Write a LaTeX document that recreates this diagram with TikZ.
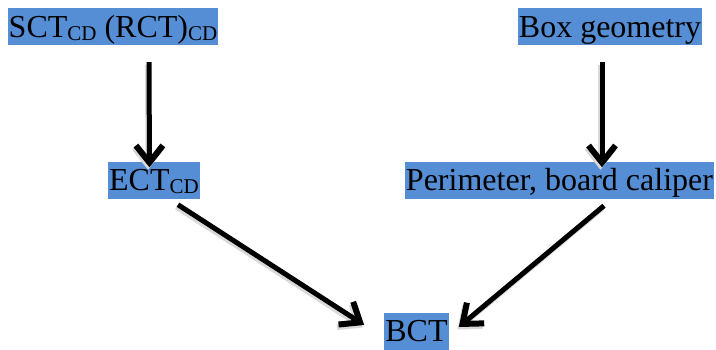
\documentclass[tikz,border=0pt]{standalone}
\usepackage{fontspec}
\setmainfont{Liberation Serif}
\usetikzlibrary{arrows.meta}
\definecolor{boxblue}{RGB}{85,142,213}
\newcommand{\sbcd}{\raisebox{-3pt}{\fontsize{21}{21}\selectfont CD}}
\begin{document}
\begin{tikzpicture}[x=1pt,y=-1pt,
  lbl/.style={fill=boxblue,inner sep=0pt,inner xsep=1pt,text height=29pt,text depth=8pt,font=\fontsize{32}{38}\selectfont},
  conn/.style={line width=5pt,-{Straight Barb[length=17pt,width=27pt,line width=6pt]}}]
\useasboundingbox (0,0) rectangle (716,349);
\node[lbl] (A) at (113,26.5) {SCT\sbcd\ (RCT)\sbcd};
\node[lbl] (B) at (610,26.5) {Box geometry};
\node[lbl] (C) at (154,180) {ECT\sbcd};
\node[lbl] (D) at (559.5,180) {Perimeter, board caliper};
\node[lbl] (E) at (416.5,331) {BCT};
\begin{scope}[transform canvas={xshift=-1.5pt,yshift=-2.5pt}]
\draw[conn,draw=black!15] ([xshift=36pt,yshift=-17pt]A.south) -- ([xshift=-4.5pt,yshift=-6pt]C.north);
\draw[conn,draw=black!15] ([xshift=-8pt,yshift=-17pt]B.south) -- ([xshift=42.5pt,yshift=-6pt]D.north);
\draw[conn,draw=black!15] ([xshift=24pt,yshift=-6pt]C.south) -- ([xshift=-20pt,yshift=6pt]E.west);
\draw[conn,draw=black!15] ([xshift=44.5pt,yshift=-7pt]D.south) -- ([xshift=10pt,yshift=4pt]E.east);
\end{scope}
\draw[conn] ([xshift=36pt,yshift=-17pt]A.south) -- ([xshift=-4.5pt,yshift=-6pt]C.north);
\draw[conn] ([xshift=-8pt,yshift=-17pt]B.south) -- ([xshift=42.5pt,yshift=-6pt]D.north);
\draw[conn] ([xshift=24pt,yshift=-6pt]C.south) -- ([xshift=-20pt,yshift=6pt]E.west);
\draw[conn] ([xshift=44.5pt,yshift=-7pt]D.south) -- ([xshift=10pt,yshift=4pt]E.east);
\end{tikzpicture}
\end{document}
